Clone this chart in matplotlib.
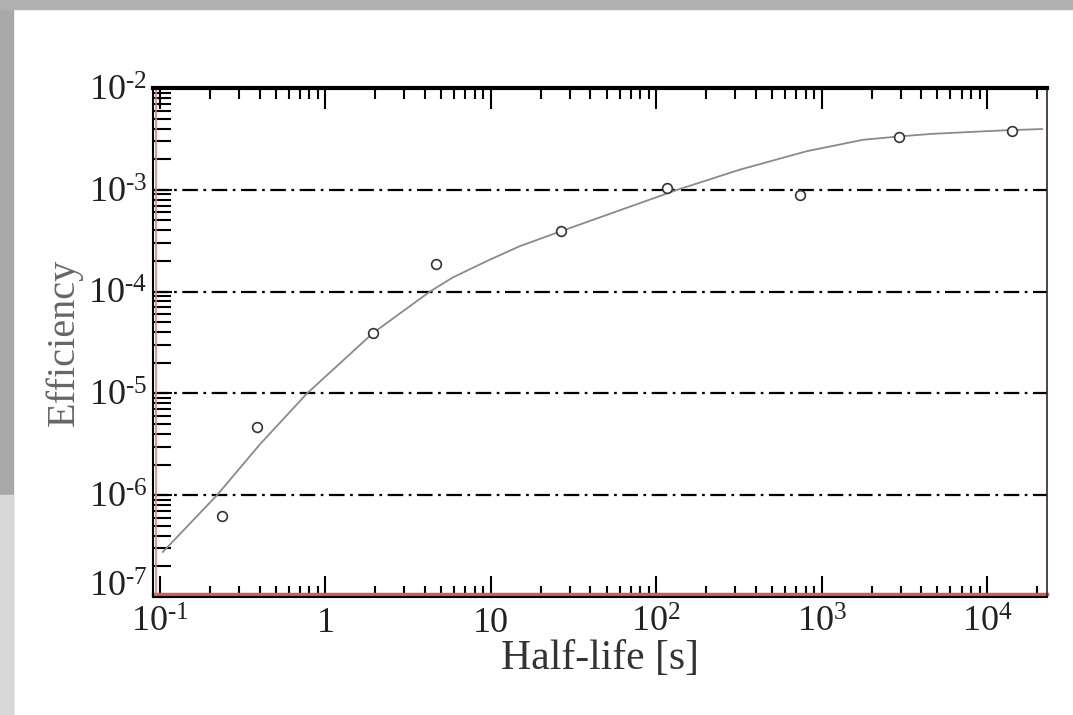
import numpy as np
import matplotlib.pyplot as plt
from matplotlib.patches import Rectangle
from matplotlib.ticker import LogLocator, NullFormatter

plt.rcParams['font.family'] = ['Liberation Serif', 'DejaVu Serif']
plt.rcParams['mathtext.fontset'] = 'custom'
plt.rcParams['mathtext.rm'] = 'Liberation Serif'

# measured points (half-life in s, efficiency)
half_life = [0.237, 0.386, 1.94, 4.67, 26.5, 116, 740, 2940, 14150]
efficiency = [6.3e-7, 4.7e-6, 3.9e-5, 1.86e-4, 3.98e-4, 1.05e-3, 8.9e-4, 3.3e-3, 3.8e-3]

# fitted curve
curve_x = [0.104, 0.221, 0.403, 0.774, 1.94, 4.28, 5.90, 9.49, 15.0, 26.2, 134, 321, 817,
           1778, 2980, 4710, 13200, 21500]
curve_y = [2.77e-7, 1.0e-6, 3.18e-6, 1.0e-5, 3.92e-5, 1.0e-4, 1.38e-4, 2.0e-4, 2.8e-4,
           3.89e-4, 1.0e-3, 1.58e-3, 2.4e-3, 3.1e-3, 3.35e-3, 3.55e-3, 3.85e-3, 3.95e-3]

xticks = [0.1, 1, 10, 100, 1000, 10000]
xtick_labels = [r'$\mathregular{10^{\text{-}1}}$', '1', '10', r'$\mathregular{10^{2}}$',
                r'$\mathregular{10^{3}}$', r'$\mathregular{10^{4}}$']
yticks = [1e-7, 1e-6, 1e-5, 1e-4, 1e-3, 1e-2]
ytick_labels = [r'$\mathregular{10^{\text{-}%d}}$' % k for k in range(7, 1, -1)]

fig = plt.figure(figsize=(10.73, 7.15), dpi=100)

# grey frame left and top, like the screenshot
fig.patches.append(Rectangle((0, 0), 13 / 1073, 1, transform=fig.transFigure,
                             color='#a8a8a8', zorder=0))
fig.patches.append(Rectangle((0, 0), 13 / 1073, 220 / 715, transform=fig.transFigure,
                             color='#d8d8d8', zorder=0))
fig.patches.append(Rectangle((0, 1 - 9 / 715), 1, 9 / 715, transform=fig.transFigure,
                             color='#b0b0b0', zorder=0))

ax = fig.add_axes([153 / 1073, 1 - 597 / 715, (1047 - 153) / 1073, (597 - 88) / 715])
ax.set_xscale('log')
ax.set_yscale('log')
ax.set_xlim(0.0907, 2.3e4)
ax.set_ylim(1e-7, 1e-2)

# dash-dot grid at each decade
for yv in yticks:
    ax.axhline(yv, color='black', lw=1.6, ls=(0, (7, 2.5, 1.2, 2.5)), zorder=1)

# red lines just inside the bottom and left spines
ax.plot([0, 1], [0.005, 0.005], transform=ax.transAxes, color='#d45a5a', lw=2.5,
        clip_on=False, zorder=2)
ax.plot([0.003, 0.003], [0, 1], transform=ax.transAxes, color='#e08080', lw=1.2,
        clip_on=False, zorder=2)

ax.plot(curve_x, curve_y, color='#8a8a8a', lw=1.3, zorder=3)
ax.plot(half_life, efficiency, ls='none', marker='o', ms=7, mfc='white',
        mec='#333333', mew=1.2, zorder=4)

ax.set_xticks(xticks)
ax.set_xticklabels(xtick_labels)
ax.set_yticks(yticks)
ax.set_yticklabels(ytick_labels)
ax.xaxis.set_minor_locator(LogLocator(base=10, subs=np.arange(2, 10), numticks=20))
ax.yaxis.set_minor_locator(LogLocator(base=10, subs=np.arange(2, 10), numticks=20))
ax.xaxis.set_minor_formatter(NullFormatter())
ax.yaxis.set_minor_formatter(NullFormatter())

ax.tick_params(axis='both', which='both', direction='in', color='black', width=1.5,
               labelsize=26, labelcolor='#222222')
ax.tick_params(axis='x', which='major', length=15, pad=7, top=True)
ax.tick_params(axis='x', which='minor', length=8, top=True)
ax.tick_params(axis='y', which='major', length=14, pad=4)
ax.tick_params(axis='y', which='minor', length=13)

# lowest y label sits on its tick so it clears the 10^-1 label below
ax.get_yticklabels()[0].set_verticalalignment('baseline')

for side in ['left', 'bottom']:
    ax.spines[side].set_linewidth(1.5)
ax.spines['top'].set_linewidth(3)
ax.spines['right'].set_linewidth(1.2)
ax.spines['right'].set_color('#3a2020')

ax.set_xlabel('Half-life [s]', fontsize=30, color='#333333', labelpad=0)
ax.set_ylabel('Efficiency', fontsize=29, color='#666666', labelpad=4)

fig.savefig('out.png', dpi=100)
